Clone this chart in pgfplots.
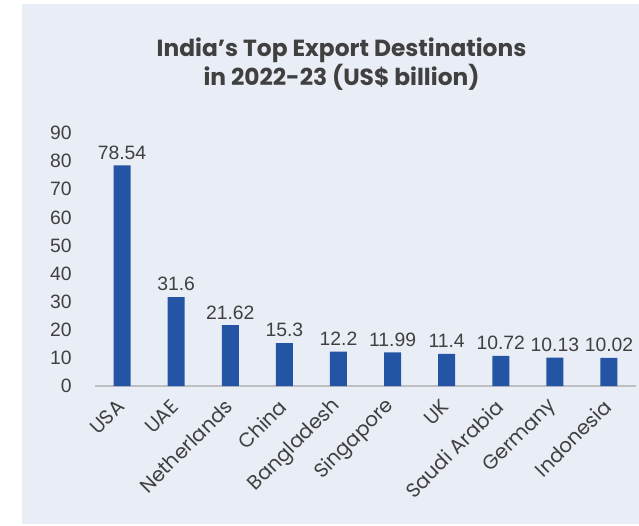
\documentclass[border=0pt]{standalone}
\usepackage{fontspec}
\setmainfont{Poppins}
\newfontfamily\numfont{Liberation Sans}
\usepackage{pgfplots}
\pgfplotsset{compat=1.18}
\definecolor{panel}{RGB}{233,237,246}
\definecolor{barblue}{RGB}{36,85,164}
\definecolor{txt}{RGB}{64,64,64}
\definecolor{axl}{RGB}{190,190,195}
\begin{document}
\begin{tikzpicture}[x=0.75pt,y=0.75pt]
\useasboundingbox (0,0) rectangle (639,525);
\fill[white] (0,0) rectangle (639,525);
\fill[panel] (22,1) rectangle (639,521);
\node[font=\bfseries\fontsize{17.5}{20.25}\selectfont, text=txt, align=center] at (341.5,461) {India’s Top Export Destinations\\in 2022-23 (US\$ billion)};
\begin{axis}[
  at={(71.25pt,104.25pt)}, anchor=south west,
  scale only axis, width=405.75pt, height=189.7pt,
  xmin=-0.5, xmax=9.5, ymin=0, ymax=90,
  ytick={0,10,...,90},
  xtick={0,...,9},
  xticklabels={USA,UAE,Netherlands,China,Bangladesh,Singapore,UK,Saudi Arabia,Germany,Indonesia},
  axis line style={draw=none},
  major tick length=0pt,
  yticklabel style={font=\numfont\fontsize{14.5}{16}\selectfont, text=txt, xshift=-14pt},
  /pgf/number format/assume math mode=true,
  xticklabel style={font=\fontsize{15}{17}\selectfont, text=txt, xshift=1.5pt, yshift=-10.5pt, rotate=45, anchor=east},
  nodes near coords,
  every node near coord/.append style={font=\numfont\fontsize{14.5}{16}\selectfont, text=txt, yshift=1pt},
  clip=false,
]
\draw[axl, line width=1pt] (axis cs:-0.5,0) -- (axis cs:9.5,0);
\addplot[ybar, bar width=12.75pt, fill=barblue, draw=none] coordinates {
(0,78.54) (1,31.6) (2,21.62) (3,15.3) (4,12.2) (5,11.99) (6,11.4) (7,10.72) (8,10.13) (9,10.02)};
\end{axis}
\end{tikzpicture}
\end{document}
